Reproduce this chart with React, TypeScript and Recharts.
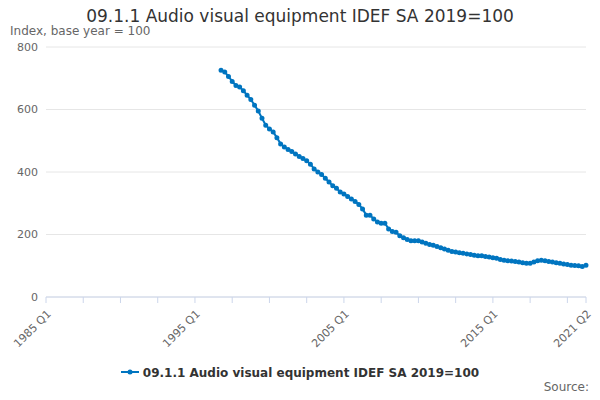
import React from "react";
import { LineChart, Line, XAxis, YAxis, CartesianGrid } from "recharts";

// quarter index 0 = 1985 Q1
const START_INDEX = 47;
const values = [
  726, 720, 706, 690, 677, 672, 660, 646, 632, 614, 595, 572, 550, 538, 528, 510,
  490, 480, 472, 466, 458, 450, 443, 436, 425, 410, 400, 392, 380, 368, 356, 348,
  336, 330, 322, 314, 306, 296, 282, 262, 262, 250, 240, 236, 236, 218, 210, 207,
  196, 190, 184, 180, 180, 180, 176, 172, 168, 166, 162, 158, 154, 150, 146, 144,
  142, 140, 138, 136, 134, 132, 132, 130, 128, 126, 124, 120, 118, 116, 115, 114,
  112, 110, 108, 108, 112, 116, 118, 116, 114, 112, 110, 108, 106, 104, 102, 101,
  100, 98, 102,
];
const xTicks = [0, 10, 20, 30, 40, 50, 60, 70, 80, 90, 100, 110, 120, 130, 140, 145];
const xLabels: Record<number, string> = {
  0: "1985 Q1",
  40: "1995 Q1",
  80: "2005 Q1",
  120: "2015 Q1",
  145: "2021 Q2",
};
const yTicks = [0, 200, 400, 600, 800];
const seriesName = "09.1.1 Audio visual equipment IDEF SA 2019=100";

const data = values.map((v, i) => ({ q: START_INDEX + i, v }));

const font = "'DejaVu Sans', sans-serif";
const blue = "#0075c0";

function XTick(props: any) {
  const { x, y, payload } = props;
  const label = xLabels[payload.value];
  if (!label) return null;
  return (
    <text x={x} y={y + 4} transform={`rotate(-45 ${x} ${y + 4})`} textAnchor="end"
      dominantBaseline="hanging" fontSize={11} fill="#666" fontFamily={font}>
      {label}
    </text>
  );
}

export default function App() {
  return (
    <div style={{ position: "relative", width: 600, height: 400, fontFamily: font, margin: -8 }}>
      <div style={{ position: "absolute", top: 6, width: 600, textAlign: "center", fontSize: 17, color: "#333" }}>
        {seriesName}
      </div>
      <div style={{ position: "absolute", top: 24, left: 10, fontSize: 12, color: "#666" }}>
        Index, base year = 100
      </div>
      <LineChart width={600} height={400} data={data} margin={{ top: 47, right: 14, left: 0, bottom: 73 }}>
        <CartesianGrid vertical={false} stroke="#e6e6e6" />
        <XAxis dataKey="q" type="number" domain={[0, 145]} ticks={xTicks} interval={0}
          tick={<XTick />} stroke="#ccd6eb" tickSize={6} height={30} />
        <YAxis domain={[0, 800]} ticks={yTicks} width={46} axisLine={false} tickLine={false}
          tick={{ fontSize: 11, fill: "#666", fontFamily: font }} />
        <Line dataKey="v" stroke={blue} strokeWidth={2} dot={{ r: 1.5, fill: blue, stroke: blue }}
          isAnimationActive={false} />
      </LineChart>
      <div style={{ position: "absolute", top: 366, width: 600, textAlign: "center", fontSize: 12, fontWeight: "bold", color: "#333" }}>
        <svg width={18} height={10} style={{ marginRight: 4 }}>
          <line x1={0} y1={5} x2={18} y2={5} stroke={blue} strokeWidth={2} />
          <circle cx={9} cy={5} r={2.5} fill={blue} />
        </svg>
        {seriesName}
      </div>
      <div style={{ position: "absolute", top: 380, right: 11, fontSize: 12, color: "#666" }}>Source:</div>
    </div>
  );
}
